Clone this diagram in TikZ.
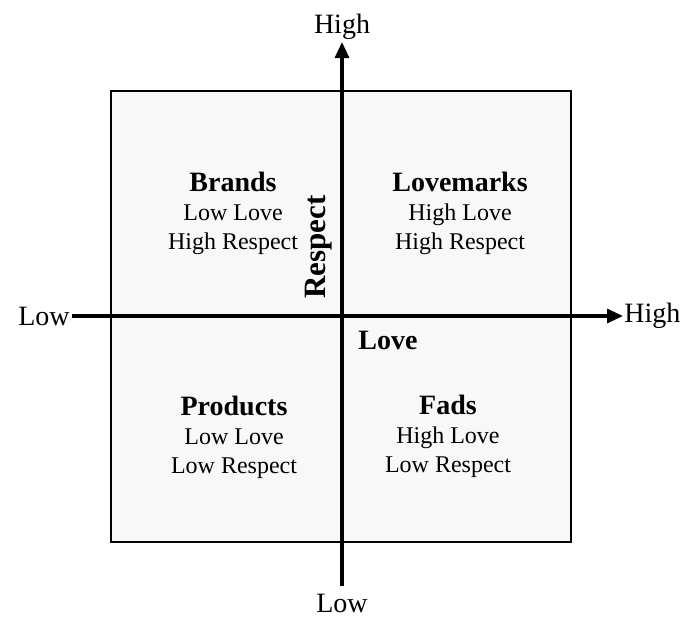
\documentclass[tikz,border=0pt]{standalone}
\usepackage{fontspec}
\setmainfont{Liberation Serif}
\usetikzlibrary{arrows.meta}

\definecolor{QuadFill}{HTML}{F8F8F8}

\begin{document}
\begin{tikzpicture}[x=0.5pt,y=-0.5pt]
\tikzset{QuadStyle/.style = {align= center, font=\fontsize{12}{14.5}\selectfont},
         AxisLabelStyle/.style = {font=\fontsize{14}{15}\selectfont},
         AxisStyle/.style = {line width=1.6pt, -{Triangle[length=8pt,width=7pt]}}
}
    \useasboundingbox (0,0) rectangle (688,616);

    % Draw the square
    \draw [line width=1.4pt, fill=QuadFill] (111,91) rectangle (571,542);

    % Draw axes
    \coordinate (left) at (72,316);
    \coordinate (right) at (623,316);
    \coordinate (bottom) at (342,586);
    \coordinate (top) at (342,42);
    \draw [AxisStyle] (left) -- (right);
    \draw [AxisStyle] (bottom) -- (top);

    \node[AxisLabelStyle] (yhigh) at (342,27)  {High};
    \node[AxisLabelStyle] (ylow)  at (342,603) {Low};
    \node[AxisLabelStyle, anchor=east, inner sep=1pt] (xlow)  at (72,316)  {Low};
    \node[AxisLabelStyle, anchor=west, inner sep=1pt] (xhigh) at (622,316) {High};

    \node[AxisLabelStyle, rotate=90, font=\fontsize{15.5}{16}\selectfont] (respect) at (319,247) {\bfseries Respect};
    \node[AxisLabelStyle] (love) at (388,340) {\bfseries Love};

   \node[QuadStyle] (brands)    at (233,213) {\textbf{\fontsize{14}{14.5}\selectfont Brands}\\Low Love\\High Respect};
   \node[QuadStyle] (lovemarks) at (460,213) {\textbf{\fontsize{14}{14.5}\selectfont Lovemarks}\\High Love\\High Respect};
   \node[QuadStyle] (products)  at (234,437) {\textbf{\fontsize{14}{14.5}\selectfont Products}\\Low Love\\Low Respect};
   \node[QuadStyle] (fads)      at (448,436) {\textbf{\fontsize{14}{14.5}\selectfont Fads}\\High Love\\Low Respect};
\end{tikzpicture}
\end{document}
